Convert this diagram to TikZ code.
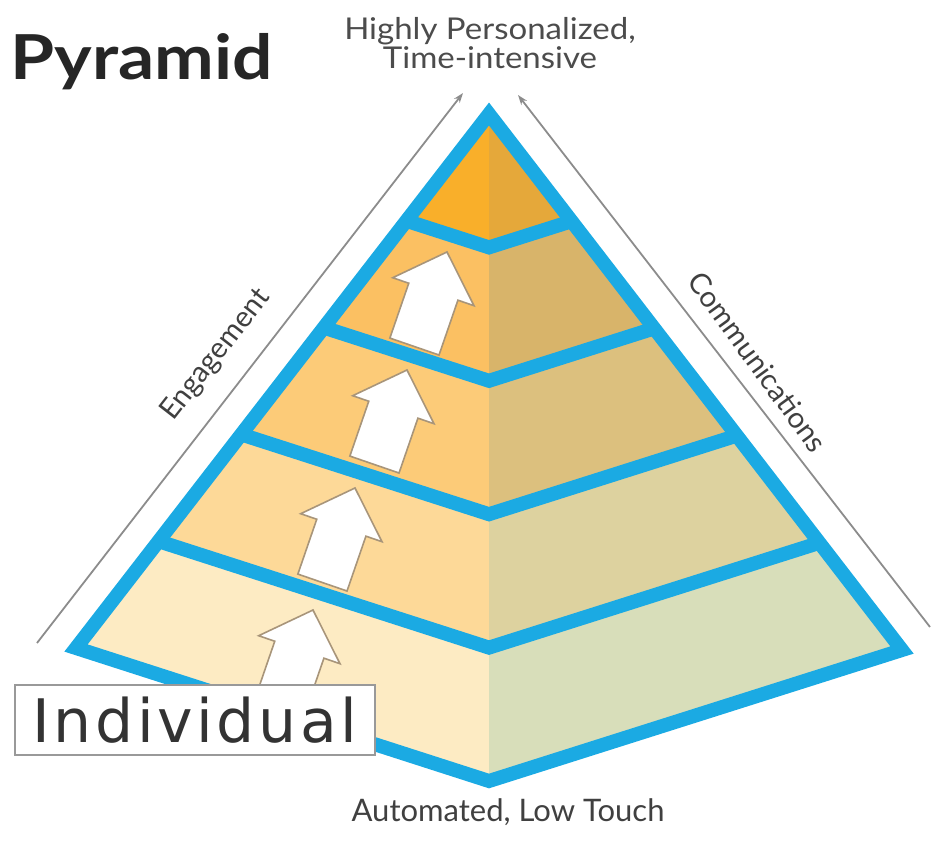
\documentclass[tikz,border=0pt]{standalone}
\usepackage{fontspec}
\setmainfont{Lato}
\newfontfamily\boxfont[LetterSpace=6]{DejaVu Sans}
\usetikzlibrary{arrows.meta,calc,positioning}
\definecolor{bandblue}{HTML}{1BAAE3}
\definecolor{arrowedge}{HTML}{A8957A}
\definecolor{lay1l}{HTML}{F9AF2A}
\definecolor{lay2l}{HTML}{FBC062}
\definecolor{lay3l}{HTML}{FCCB78}
\definecolor{lay4l}{HTML}{FDD998}
\definecolor{lay5l}{HTML}{FDEBC3}
\definecolor{lay1r}{HTML}{E5A83A}
\definecolor{lay2r}{HTML}{D8B46A}
\definecolor{lay3r}{HTML}{DCC07E}
\definecolor{lay4r}{HTML}{DDD29F}
\definecolor{lay5r}{HTML}{D8DEBA}

\begin{document}
\begin{tikzpicture}[x=1pt,y=-1pt]
	\tikzstyle{band}=[draw=bandblue,line width=14pt,line join=miter];
	\tikzstyle{guide}=[draw=black!45,line width=1.8pt,-{Stealth[length=10pt,width=7pt]}];
	\tikzstyle{upar}=[draw=arrowedge,line width=1.6pt,fill=white,line join=miter];
	\tikzstyle{side}=[font=\fontsize{29}{31}\selectfont,text=black!75];
	\useasboundingbox (0,0) rectangle (933,840);

	\coordinate (apex) at (489,114);
	\coordinate (bl) at (76,648);
	\coordinate (bf) at (489,781);
	\coordinate (br) at (902,650);
	% level k sits at fraction t from the apex
	\foreach \k/\t in {0/0,1/0.2,2/0.4,3/0.6,4/0.8,5/1}{
		\coordinate (l\k) at ($(apex)!\t!(bl)$);
		\coordinate (f\k) at ($(apex)!\t!(bf)$);
		\coordinate (r\k) at ($(apex)!\t!(br)$);
	}
	\foreach \j/\k in {0/1,1/2,2/3,3/4,4/5}{
		\fill[lay\k l] (l\j) -- (l\k) -- (f\k) -- (f\j) -- cycle;
		\fill[lay\k r] (r\j) -- (r\k) -- (f\k) -- (f\j) -- cycle;
	}

	% white step arrows
	\foreach \x/\y in {313/610,355/488,407/370,447/252}
		\draw[upar,shift={(\x,\y)},rotate=-19] (0,0) -- (43,42) -- (26,42) -- (26,100) -- (-26,100) -- (-26,42) -- (-43,42) -- cycle;

	\draw[band] (apex) -- (bl) -- (bf) -- (br) -- cycle;
	\foreach \k in {1,...,4}
		\draw[band] (l\k) -- (f\k) -- (r\k);

	\node[draw=black!40,line width=1.5pt,fill=white,minimum width=360pt,minimum height=70pt,inner sep=0pt,font=\boxfont\fontsize{60}{64}\selectfont,text=black!80] (indiv) at (195,720) {Individual};

	\coordinate (engfoot) at (37,643);
	\coordinate (engtip) at (463,93);
	\coordinate (comfoot) at (930,627);
	\coordinate (comtip) at (518,95);
	\draw[guide] (engfoot) -- (engtip);
	\draw[guide] (comfoot) -- (comtip);

	\node[font=\bfseries\fontsize{62}{66}\selectfont,text=black!85,xscale=1.15] (title) at (142,62) {Pyramid};
	\node[align=center,font=\fontsize{30}{24}\selectfont,text=black!70,xscale=1.1] (toplabel) at (490,43) {Highly Personalized,\\Time-intensive};
	\node[side,rotate=52] (eng) at (216,355) {Engagement};
	\node[side,rotate=-54] (com) at (758,362) {Communications};
	\node[font=\fontsize{31}{33}\selectfont,text=black!75] (bottomlabel) at (508,812) {Automated, Low Touch};
\end{tikzpicture}
\end{document}
